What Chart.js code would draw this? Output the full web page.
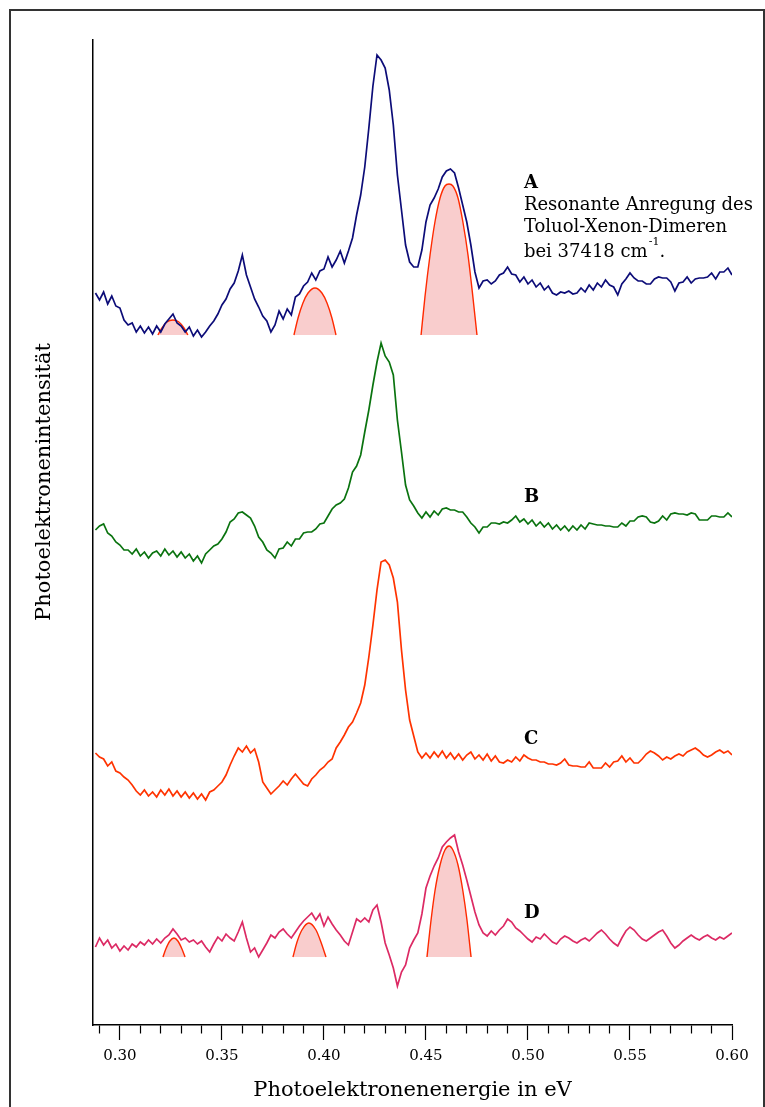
<!DOCTYPE html>
<html>
<head>
<meta charset="utf-8">
<script src="https://cdn.jsdelivr.net/npm/chart.js"></script>
<style>
  html, body { margin: 0; padding: 0; background: #fff; overflow: hidden; }
  #frame { position: absolute; left: 9px; top: 9px; width: 752px; height: 1120px; border: 2px solid #333; }
  #spectra { position: absolute; left: 0; top: 0; }
</style>
</head>
<body>
<div id="frame"></div>
<canvas id="spectra" width="765" height="1107"></canvas>
<script>
// energy grid of the measured spectra (eV)
const E_START = 0.288;
const E_STEP = 0.002;

// photoelectron intensity (arb. units, above each trace's own baseline)
const traceA = [42,35,43,31,39,29,27,15,10,12,
  3,9,2,8,1,9,3,11,16,21,
  12,9,3,8,-1,5,-2,3,9,14,
  21,30,36,46,52,64,80,60,48,36,
  28,19,14,3,10,24,16,26,20,38,
  41,49,53,62,55,64,66,78,68,75,
  84,72,84,97,120,140,168,207,249,280,
  275,267,245,210,160,125,90,73,68,68,
  85,113,130,137,146,158,164,166,162,147,
  130,113,90,63,47,54,55,51,54,60,
  62,68,61,60,53,58,51,55,48,52,
  45,49,42,40,43,42,44,41,42,47,
  43,50,45,52,48,55,50,48,40,51,
  56,62,57,54,54,51,51,56,58,57,
  57,53,44,52,53,58,52,56,57,57,
  58,62,56,63,63,67,60];
const traceB = [30,34,36,27,24,18,15,10,10,6,
  11,4,8,2,7,9,4,11,5,9,
  3,8,2,6,-1,4,-3,6,10,14,
  16,21,28,38,41,47,48,45,42,34,
  23,18,10,7,2,11,12,18,14,21,
  21,27,28,28,31,36,37,44,51,55,
  57,61,72,88,94,105,128,150,175,198,
  217,204,198,185,140,108,75,60,54,47,
  42,48,43,49,45,51,52,50,50,48,
  48,43,37,33,27,33,33,37,37,36,
  38,37,40,44,38,41,36,40,34,38,
  33,37,31,35,30,34,29,34,30,35,
  31,37,36,35,35,34,34,33,33,37,
  34,39,39,43,44,43,38,37,39,44,
  40,46,47,46,46,45,47,46,40,40,
  40,44,44,43,43,47,43];
const traceC = [44,40,38,31,35,26,24,20,17,12,
  6,2,7,1,5,0,7,2,8,1,
  6,0,5,-1,4,-2,3,-3,5,7,
  11,15,22,32,41,49,45,51,44,48,
  35,15,9,3,7,11,16,12,18,23,
  18,13,11,18,22,27,30,35,38,49,
  55,62,70,75,84,94,112,140,172,207,
  235,237,232,219,195,147,107,77,61,45,
  39,44,39,45,40,46,39,44,38,43,
  37,42,45,38,42,37,43,36,41,35,
  34,37,35,40,36,42,39,37,37,35,
  35,33,33,32,34,38,32,31,31,30,
  30,35,29,29,29,34,30,35,36,41,
  35,39,34,34,38,43,46,44,41,37,
  40,38,41,43,41,45,47,49,46,42,
  40,42,45,47,44,46,42];
const traceD = [10,19,12,17,9,13,6,11,7,13,
  10,15,12,17,13,18,14,19,22,28,
  23,17,19,15,17,13,16,10,5,13,
  20,16,23,19,16,25,35,19,5,9,
  0,7,14,22,19,25,28,23,19,25,
  31,36,40,44,37,43,31,40,33,27,
  22,16,12,25,38,35,39,35,47,52,
  35,14,2,-11,-29,-15,-8,9,17,24,
  43,69,81,91,99,110,115,119,122,105,
  92,77,61,45,32,24,21,26,22,27,
  31,38,35,29,26,22,18,15,20,18,
  23,19,15,13,18,21,19,16,14,17,
  19,16,20,24,27,23,18,14,11,19,
  26,30,27,22,18,16,19,22,25,27,
  21,14,9,12,16,19,22,19,17,20,
  22,19,17,20,18,21,24];

// vertical offsets of the stacked traces
const offsets = { A: 690, B: 465, C: 228, D: 68 };

// fitted bands (energy, height) for A and D
const fitA1E = [0.3186,0.3206,0.3230,0.3260,0.3289,0.3314,0.3333];
const fitA1H = [0,7,13,15,13,7,0];
const fitA2E = [0.3853,0.3873,0.3897,0.3922,0.3956,0.3990,0.4015,0.4039,0.4059];
const fitA2H = [0,17,32,42,47,42,32,17,0];
const fitA3E = [0.4476,0.4495,0.4520,0.4544,0.4569,0.4593,0.4613,0.4632,0.4657,0.4681,0.4706,0.4730,0.4750];
const fitA3H = [0,38,80,113,137,149,151,149,137,113,80,38,0];
const fitD1E = [0.3211,0.3225,0.3245,0.3265,0.3284,0.3304,0.3319];
const fitD1H = [0,8,16,19,16,8,0];
const fitD2E = [0.3848,0.3868,0.3892,0.3926,0.3961,0.3985,0.4010];
const fitD2H = [0,15,27,34,27,15,0];
const fitD3E = [0.4505,0.4525,0.4544,0.4569,0.4593,0.4613,0.4632,0.4657,0.4681,0.4701,0.4721];
const fitD3H = [0,37,66,92,107,111,107,92,66,37,0];

const traceNames = ['A', 'B', 'C', 'D'];
const noteLines = ['Resonante Anregung des', 'Toluol-Xenon-Dimeren', 'bei 37418 cm'];
const xTitle = 'Photoelektronenenergie in eV';
const yTitle = 'Photoelektronenintensität';

const FONT = '"DejaVu Serif", "Liberation Serif", serif';

const energies = traceA.map((_, i) => +(E_START + i * E_STEP).toFixed(3));

const traceLine = (vals, off, color) => ({
  data: vals.map((v, i) => ({ x: energies[i], y: off + v })),
  borderColor: color,
  borderWidth: 1.7,
  pointRadius: 0,
  tension: 0,
  fill: false,
  order: 0,
});

const fitBand = (es, hs, off) => ({
  data: es.map((e, i) => ({ x: e, y: off + hs[i] })),
  borderColor: '#ff2a00',
  borderWidth: 1.4,
  backgroundColor: '#f9cdcd',
  pointRadius: 0,
  cubicInterpolationMode: 'monotone',
  fill: { value: off },
  order: 1,
});

const textPlugin = {
  id: 'texts',
  afterDraw(chart) {
    const { ctx, scales: { x, y } } = chart;
    ctx.save();
    ctx.fillStyle = '#000';
    ctx.textAlign = 'left';
    ctx.textBaseline = 'middle';
    const lx = x.getPixelForValue(0.498);
    ctx.font = 'bold 18px ' + FONT;
    const labelY = [842, 528, 286, 112];
    traceNames.forEach((n, i) => ctx.fillText(n, lx, y.getPixelForValue(labelY[i])));

    ctx.font = '18px ' + FONT;
    ctx.fillText(noteLines[0], lx, y.getPixelForValue(820));
    ctx.fillText(noteLines[1], lx, y.getPixelForValue(798));
    const ly = y.getPixelForValue(773);
    ctx.fillText(noteLines[2], lx, ly);
    let w = ctx.measureText(noteLines[2]).width;
    ctx.font = '11px ' + FONT;
    ctx.fillText('-1', lx + w + 1, ly - 10);
    w += ctx.measureText('-1').width + 1;
    ctx.font = '18px ' + FONT;
    ctx.fillText('.', lx + w, ly);

    // y axis title
    ctx.font = '21px ' + FONT;
    ctx.textAlign = 'center';
    ctx.translate(x.left - 48, y.getPixelForValue(543));
    ctx.rotate(-Math.PI / 2);
    ctx.fillText(yTitle, 0, 0);
    ctx.restore();
  },
};

const isMajor = (v) => Math.round(v * 100) % 5 === 0;

new Chart(document.getElementById('spectra'), {
  type: 'line',
  data: {
    datasets: [
      traceLine(traceA, offsets.A, '#0c0c78'),
      traceLine(traceB, offsets.B, '#0a730f'),
      traceLine(traceC, offsets.C, '#ff3300'),
      traceLine(traceD, offsets.D, '#dc2a64'),
      fitBand(fitA1E, fitA1H, offsets.A),
      fitBand(fitA2E, fitA2H, offsets.A),
      fitBand(fitA3E, fitA3H, offsets.A),
      fitBand(fitD1E, fitD1H, offsets.D),
      fitBand(fitD2E, fitD2H, offsets.D),
      fitBand(fitD3E, fitD3H, offsets.D),
    ],
  },
  options: {
    responsive: false,
    animation: false,
    devicePixelRatio: 1,
    layout: { padding: { left: 93, right: 33, top: 40, bottom: 0 } },
    plugins: { legend: { display: false }, tooltip: { enabled: false } },
    scales: {
      x: {
        type: 'linear',
        position: 'bottom',
        min: 0.2868,
        max: 0.60,
        border: { display: true, color: '#000', width: 1.5 },
        grid: {
          drawOnChartArea: false,
          drawTicks: true,
          tickLength: 15,
          tickColor: '#000',
          tickWidth: 1.2,
          tickBorderDash: (c) => (isMajor(c.tick.value) ? [] : [8, 40]),
        },
        ticks: {
          stepSize: 0.01,
          autoSkip: false,
          includeBounds: false,
          maxRotation: 0,
          padding: 7,
          color: '#000',
          font: { family: FONT, size: 15 },
          callback: (v) => (isMajor(v) ? v.toFixed(2) : ''),
        },
        title: {
          display: true,
          text: xTitle,
          color: '#000',
          font: { family: FONT, size: 21 },
          padding: { top: 2, bottom: 4 },
        },
        afterFit: (s) => { s.height = 82; },
      },
      y: {
        type: 'linear',
        min: 0,
        max: 985,
        border: { display: true, color: '#000', width: 1.5 },
        grid: { drawOnChartArea: false, drawTicks: false },
        ticks: { display: false },
        afterFit: (s) => { s.width = 0; },
      },
    },
  },
  plugins: [textPlugin],
});
</script>
</body>
</html>
